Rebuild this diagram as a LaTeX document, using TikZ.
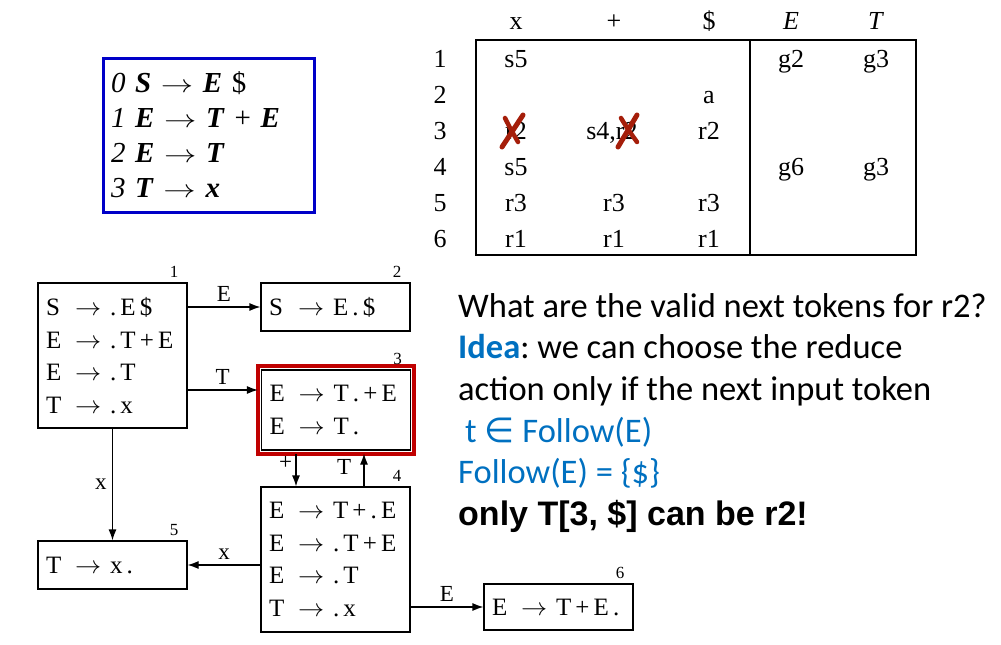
\documentclass[tikz,border=0pt]{standalone}
\usepackage{graphicx}
\usepackage{fontspec}
\setmainfont{Liberation Serif}
\newfontfamily\calfont{Carlito}
\newfontfamily\arialfont{Liberation Sans}
\newfontfamily\symfont{DejaVu Sans}
\usetikzlibrary{positioning,arrows.meta}
\definecolor{gblue}{RGB}{0,0,200}
\definecolor{boxred}{RGB}{192,0,0}
\definecolor{crossred}{RGB}{165,30,10}
\definecolor{ideablue}{RGB}{0,112,192}
\newcommand{\gv}[1]{\textbf{\textit{#1}}}
\newcommand{\garr}{\scalebox{1.3}[1]{$\rightarrow$}}
\newcommand{\itm}[2]{\makebox[29pt][l]{#1}\makebox[35pt][l]{\scalebox{1.05}[1]{$\rightarrow$}}#2}
\frenchspacing
\begin{document}
\begin{tikzpicture}[x=1pt,y=-1pt,>={Latex[length=11pt,width=8pt]},
  state/.style={draw,line width=1.2pt,text width=133pt,inner sep=8pt,align=left,font=\fontsize{25}{32.7}\selectfont},
  num/.style={anchor=south east,inner sep=1pt,font=\fontsize{17}{17}\selectfont},
  lbl/.style={font=\fontsize{23}{23}\selectfont},
  cell/.style={anchor=base,inner sep=0pt,font=\fontsize{26}{26}\selectfont},
  say/.style={anchor=base west,inner sep=0pt,font=\calfont\fontsize{34.5}{34.5}\selectfont},
  cross/.style={crossred,line width=5pt,line cap=round}]
\useasboundingbox (0,0) rectangle (1001,645);
\node[draw=gblue,line width=3pt,minimum width=211pt,minimum height=154pt,text width=195pt,inner sep=8pt,align=left,font=\fontsize{29}{35}\selectfont] (gram) at (208.5,135)
  {{\itshape 0} \gv{S} \garr{} \gv{E} \$\\
   {\itshape 1} \gv{E} \garr{} \gv{T} + \gv{E}\\
   {\itshape 2} \gv{E} \garr{} \gv{T}\\
   {\itshape 3} \gv{T} \garr{} \gv{x}};
\draw[line width=1.5pt] (476,40) rectangle (916,255);
\draw[line width=1.5pt] (750,40) -- (750,255);
\foreach \t/\x [count=\i] in {x/516,+/614,\$/709,\textit{E}/791,\textit{T}/876}
  \node[cell] (h\i) at (\x,29) {\t};
\foreach \i in {1,...,6} \node[cell] (r\i) at (440,31+36*\i) {\i};
\foreach \t/\x/\r [count=\k] in {s5/516/1,g2/791/1,g3/876/1,a/709/2,r2/516/3,{s4,r2}/612/3,r2/709/3,s5/516/4,g6/791/4,g3/876/4,r3/516/5,r3/614/5,r3/709/5,r1/516/6,r1/614/6,r1/709/6}
  \node[cell] (e\k) at (\x,31+36*\r) {\t};
\draw[cross] (502,147) -- (523,115);
\draw[cross,line width=4.5pt] (505,118) .. controls (510,128) .. (518,142);
\draw[cross] (618,147) -- (637,115);
\draw[cross,line width=4.5pt] (621,118) .. controls (627,128) .. (637,142);
\node[state,minimum height=145pt] (s1) at (112.5,355.5)
  {\itm{S}{.\,E\,\$}\\ \itm{E}{.\,T\,+\,E}\\ \itm{E}{.\,T}\\ \itm{T}{.\,x}};
\node[state,minimum height=48pt] (s2) at (335.5,307) {\itm{S}{E\,.\,\$}};
\node[state,minimum height=80pt] (s3) at (336,410) {\itm{E}{T\,.\,+\,E}\\ \itm{E}{T\,.}};
\node[state,minimum height=145pt] (s4) at (335.5,559.5)
  {\itm{E}{T\,+\,.\,E}\\ \itm{E}{.\,T\,+\,E}\\ \itm{E}{.\,T}\\ \itm{T}{.\,x}};
\node[state,minimum height=48pt] (s5) at (112.5,565) {\itm{T}{x\,.}};
\node[state,minimum height=46pt] (s6) at (558.5,607) {\itm{E}{T\,+\,E\,.}};
\draw[boxred,line width=4pt] ([shift={(-3pt,3pt)}]s3.north west) rectangle ([shift={(3pt,-3pt)}]s3.south east);
\foreach \s in {1,...,6} \node[num] (n\s) at ([xshift=-8pt,yshift=4pt]s\s.north east) {\s};
\coordinate (t13) at ([yshift=20pt]s3.west);
\coordinate (p34) at ([xshift=-40pt]s3.south);
\coordinate (p43) at ([xshift=28pt]s3.south);
\draw[->,line width=1.2pt] (s1.east |- s2.west) -- node[lbl,above=2pt] {E} (s2.west);
\draw[->,line width=1.2pt] (s1.east |- t13) -- node[lbl,above=2pt] {T} ([xshift=-3pt]t13);
\draw[->,line width=1.2pt] (s1) -- node[lbl,left=2pt] {x} (s5);
\draw[->,line width=1.2pt] ([yshift=-3pt]p34) -- node[lbl,left,pos=0.3] {+} (p34 |- s4.north);
\draw[->,line width=1.2pt] (p43 |- s4.north) -- node[lbl,left=9pt,pos=0.6] {T} ([yshift=-3pt]p43);
\draw[->,line width=1.2pt] (s4.west |- s5.east) -- node[lbl,above=2pt] {x} (s5.east);
\draw[->,line width=1.2pt] (s4.east |- s6.west) -- node[lbl,above=2pt] {E} (s6.west);
\node[say] (q1) at (458,317) {What are the valid next tokens for r2?};
\node[say] (q2) at (458,358) {{\bfseries\color{ideablue}Idea}: we can choose the reduce};
\node[say] (q3) at (458,400) {action only if the next input token};
\node[say,text=ideablue] (q4) at (465,442) {t {\symfont ∈} Follow(E)};
\node[say,text=ideablue] (q5) at (458,483) {Follow(E) = \{\$\}};
\node[say,font=\arialfont\bfseries\fontsize{34}{34}\selectfont] (q6) at (458,525) {only T[3, \$] can be r2!};
\end{tikzpicture}
\end{document}
